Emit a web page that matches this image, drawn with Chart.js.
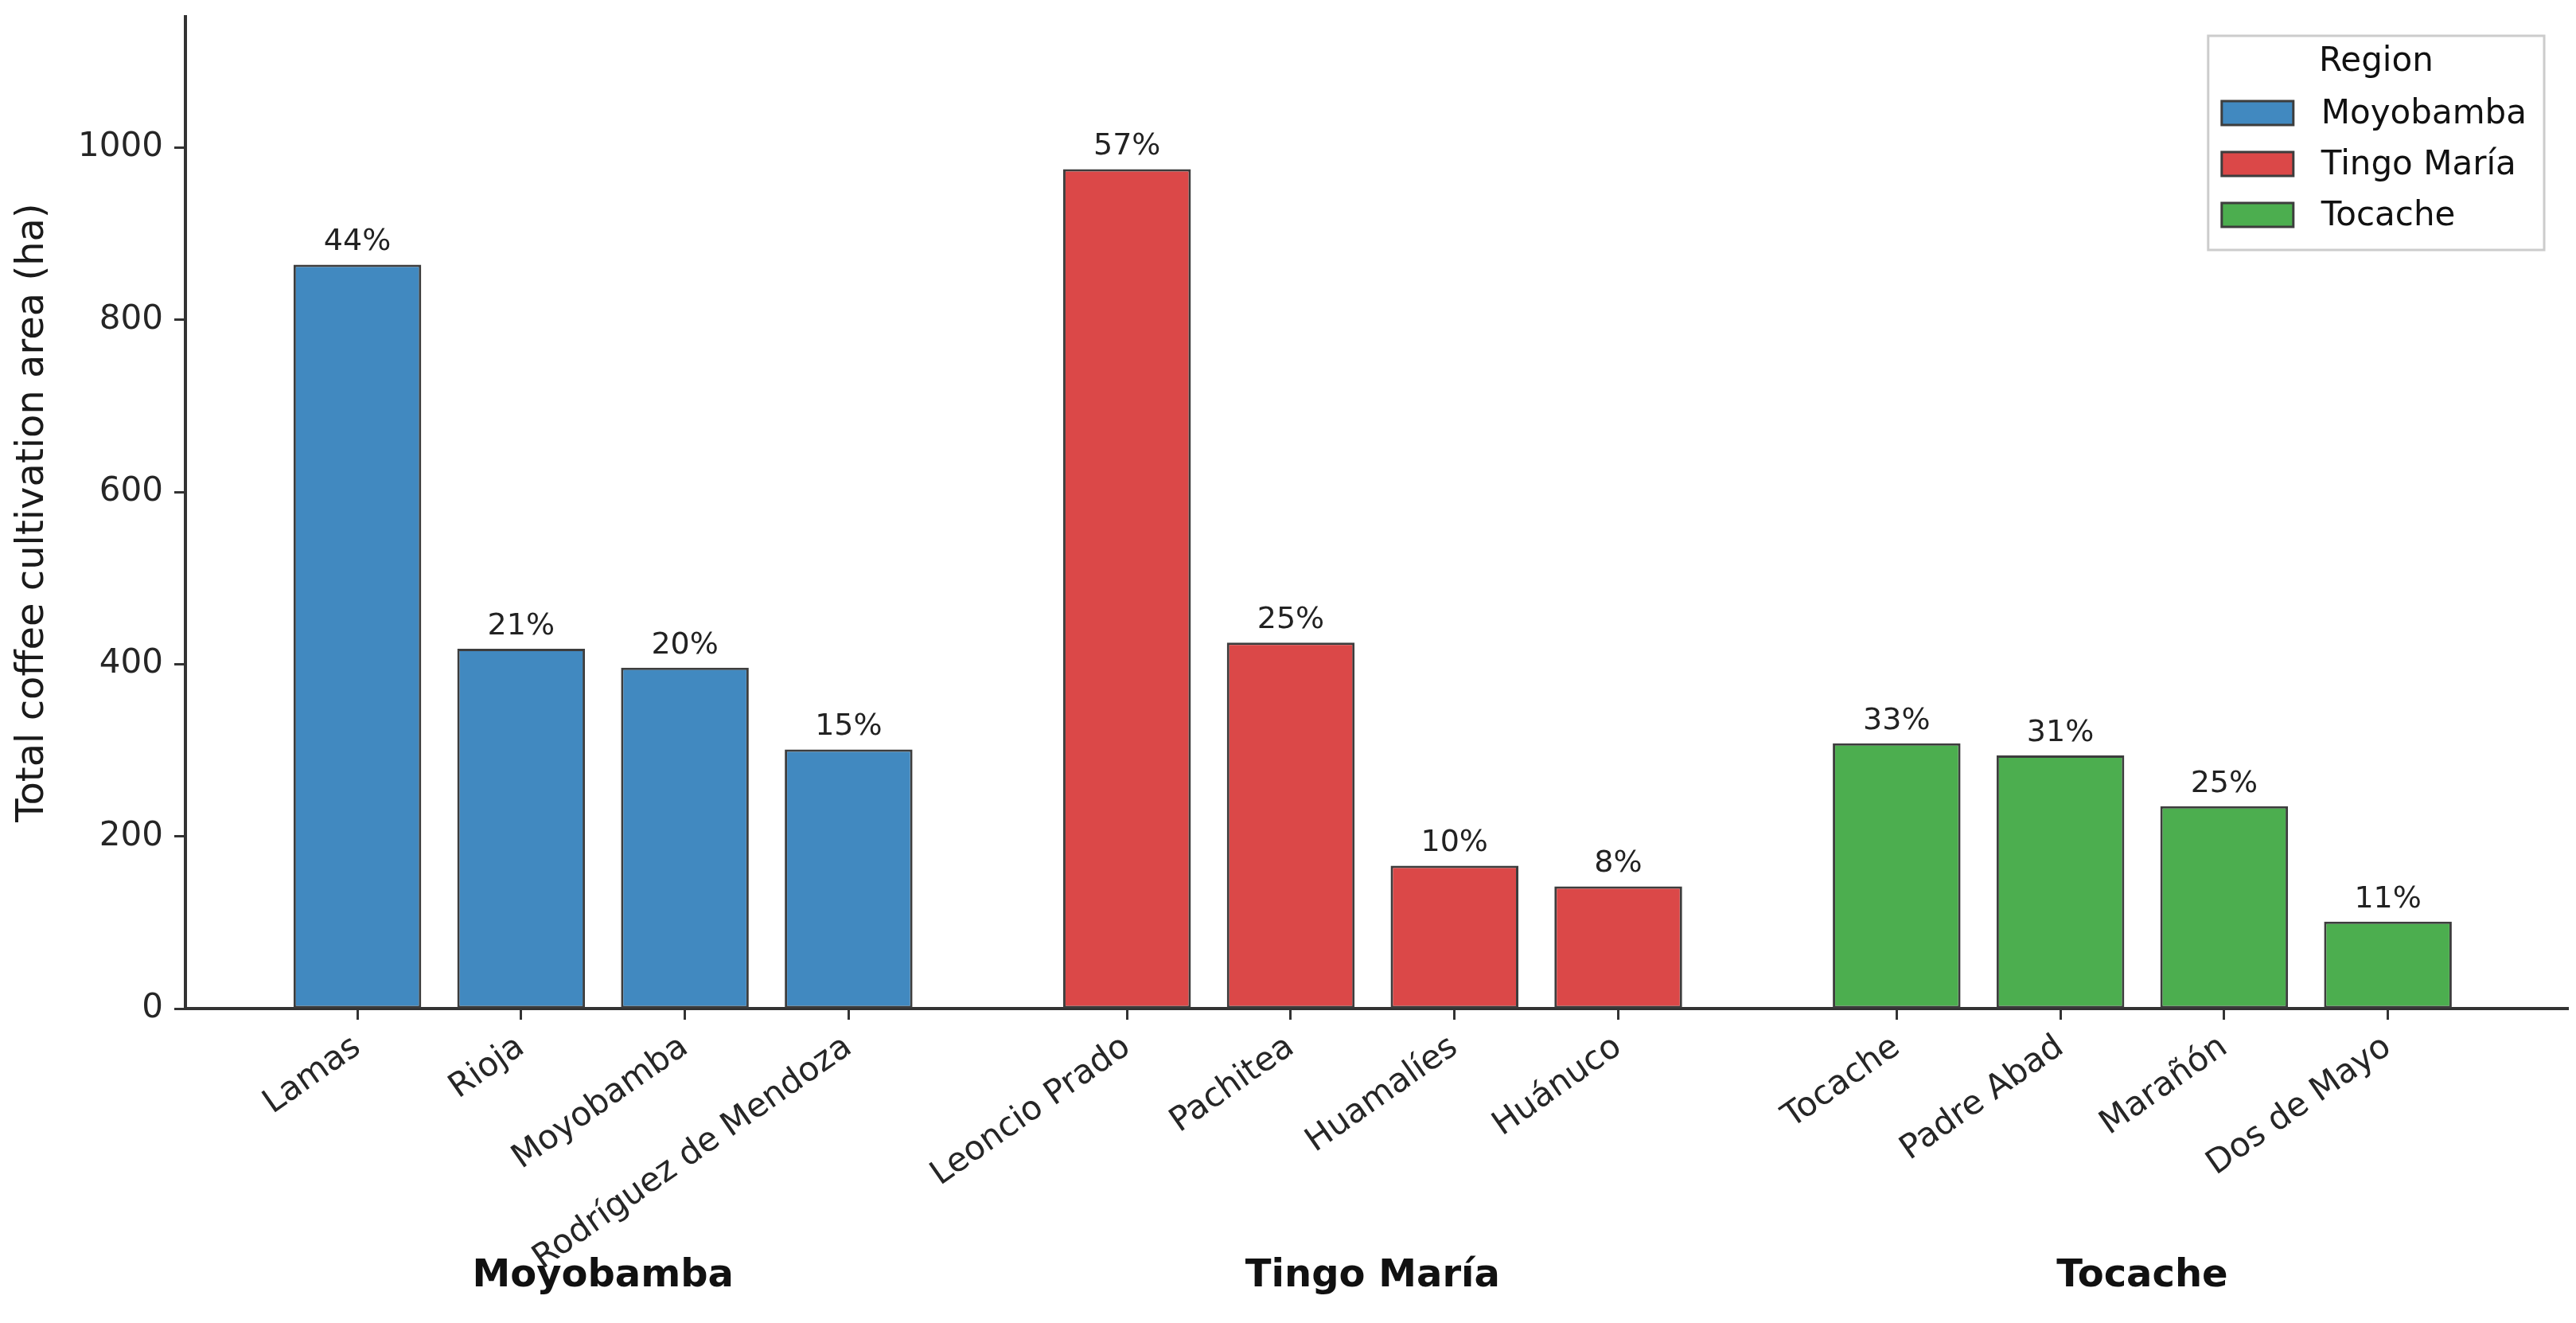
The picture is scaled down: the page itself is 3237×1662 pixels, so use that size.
<!DOCTYPE html>
<html>
<head>
<meta charset="utf-8">
<script src="https://cdn.jsdelivr.net/npm/chart.js@4.4.1/dist/chart.umd.min.js"></script>
<style>
  html, body { margin: 0; padding: 0; background: #fff; }
  canvas { display: block; }
</style>
</head>
<body>
<canvas id="coffeeChart" width="3237" height="1662" style="width:3237px;height:1662px"></canvas>
<script>
// data
const regions = ['Moyobamba', 'Tingo María', 'Tocache'];
const moyobambaProvinces = ['Lamas', 'Rioja', 'Moyobamba', 'Rodríguez de Mendoza'];
const tingoMariaProvinces = ['Leoncio Prado', 'Pachitea', 'Huamalíes', 'Huánuco'];
const tocacheProvinces = ['Tocache', 'Padre Abad', 'Marañón', 'Dos de Mayo'];
const moyobambaArea = [864, 418, 396, 301];
const tingoMariaArea = [975, 425, 166, 142];
const tocacheArea = [308, 294, 235, 101];
const moyobambaShare = ['44%', '21%', '20%', '15%'];
const tingoMariaShare = ['57%', '25%', '10%', '8%'];
const tocacheShare = ['33%', '31%', '25%', '11%'];
const yTicks = [0, 200, 400, 600, 800, 1000];

const colors = ['#4189c0', '#db4848', '#4cae4f'];
const edgeColor = '#3d3d3d';
const groupGap = 0.7;

const provinceLists = [moyobambaProvinces, tingoMariaProvinces, tocacheProvinces];
const areaLists = [moyobambaArea, tingoMariaArea, tocacheArea];
const shareLists = [moyobambaShare, tingoMariaShare, tocacheShare];

// x position of each bar: groups of 4 with a gap between them
const positions = provinceLists.map((names, g) =>
  names.map((_, i) => g * (names.length + groupGap) + i));
const allPositions = positions.flat();
const allNames = provinceLists.flat();

const datasets = regions.map((region, g) => ({
  label: region,
  data: areaLists[g].map((v, i) => ({ x: positions[g][i], y: v })),
  shares: shareLists[g],
  backgroundColor: colors[g],
  borderColor: edgeColor,
  borderWidth: 3,
  borderSkipped: false,
  grouped: false,
  categoryPercentage: 1,
  barPercentage: 0.78
}));

Chart.defaults.font.family = "'DejaVu Sans', sans-serif";
Chart.defaults.color = '#262626';

// percentage above each bar
const shareLabels = {
  id: 'shareLabels',
  afterDatasetsDraw(chart) {
    const ctx = chart.ctx;
    ctx.save();
    ctx.font = "38px 'DejaVu Sans'";
    ctx.fillStyle = '#222';
    ctx.textAlign = 'center';
    ctx.textBaseline = 'bottom';
    chart.data.datasets.forEach((ds, di) => {
      chart.getDatasetMeta(di).data.forEach((bar, i) => {
        ctx.fillText(ds.shares[i], bar.x, bar.y - 9);
      });
    });
    ctx.restore();
  }
};

// bold region names under each group of ticks
const groupLabels = {
  id: 'groupLabels',
  afterDraw(chart) {
    const ctx = chart.ctx;
    const xs = chart.scales.x;
    ctx.save();
    ctx.font = "bold 48px 'DejaVu Sans'";
    ctx.fillStyle = '#111';
    ctx.textAlign = 'center';
    ctx.textBaseline = 'middle';
    regions.forEach((region, g) => {
      const p = positions[g];
      const mid = (p[0] + p[p.length - 1]) / 2;
      ctx.fillText(region, xs.getPixelForValue(mid), chart.chartArea.bottom + 337);
    });
    ctx.restore();
  }
};

// matplotlib-style legend box inside the plot, top right
const boxLegend = {
  id: 'boxLegend',
  afterDraw(chart) {
    const ctx = chart.ctx;
    const area = chart.chartArea;
    ctx.save();
    ctx.font = "42px 'DejaVu Sans'";
    const textW = Math.max(...chart.data.datasets.map(ds => ctx.measureText(ds.label).width));
    const w = 142 + textW + 22;
    const h = 269;
    const left = area.right - 30 - w;
    const top = area.top + 24;
    ctx.fillStyle = 'rgba(255,255,255,0.85)';
    ctx.fillRect(left, top, w, h);
    ctx.strokeStyle = '#cccccc';
    ctx.lineWidth = 3;
    ctx.strokeRect(left, top, w, h);

    ctx.fillStyle = '#111';
    ctx.textAlign = 'center';
    ctx.textBaseline = 'middle';
    ctx.fillText('Region', left + w / 2, top + 33);

    ctx.textAlign = 'left';
    chart.data.datasets.forEach((ds, i) => {
      const cy = top + 97 + i * 64;
      ctx.fillStyle = ds.backgroundColor;
      ctx.fillRect(left + 17, cy - 15, 90, 30);
      ctx.strokeStyle = edgeColor;
      ctx.lineWidth = 3;
      ctx.strokeRect(left + 17, cy - 15, 90, 30);
      ctx.fillStyle = '#111';
      ctx.fillText(ds.label, left + 142, cy + 2);
    });
    ctx.restore();
  }
};

new Chart(document.getElementById('coffeeChart'), {
  type: 'bar',
  data: { datasets },
  plugins: [shareLabels, groupLabels, boxLegend],
  options: {
    responsive: false,
    devicePixelRatio: 1,
    animation: false,
    layout: { padding: { top: 21, right: 10, bottom: 0, left: 0 } },
    plugins: {
      legend: { display: false },
      tooltip: { enabled: false }
    },
    scales: {
      x: {
        type: 'linear',
        min: -1.05,
        max: 13.5,
        offset: false,
        afterBuildTicks(scale) { scale.ticks = allPositions.map(v => ({ value: v })); },
        afterFit(scale) {
          scale.height = 395;
          scale.paddingLeft = 0;
          scale.paddingRight = 0;
        },
        grid: { offset: false, drawOnChartArea: false, drawTicks: true, tickLength: 14, tickWidth: 3, tickColor: '#333' },
        border: { display: true, color: '#333', width: 4 },
        ticks: {
          autoSkip: false,
          minRotation: 35,
          maxRotation: 35,
          padding: 10,
          font: { size: 42 },
          callback: (value, index) => allNames[index]
        }
      },
      y: {
        min: 0,
        max: 1152,
        afterBuildTicks(scale) { scale.ticks = yTicks.map(v => ({ value: v })); },
        afterFit(scale) {
          scale.width = 233;
          scale.paddingTop = 0;
          scale.paddingBottom = 0;
        },
        grid: { drawOnChartArea: false, drawTicks: true, tickLength: 14, tickWidth: 3, tickColor: '#333' },
        border: { display: true, color: '#333', width: 4 },
        ticks: { padding: 14, font: { size: 42 }, callback: v => String(v) },
        title: {
          display: true,
          text: 'Total coffee cultivation area (ha)',
          font: { size: 48 },
          color: '#1a1a1a',
          padding: { top: 13, bottom: 0 }
        }
      }
    }
  }
});
</script>
</body>
</html>
